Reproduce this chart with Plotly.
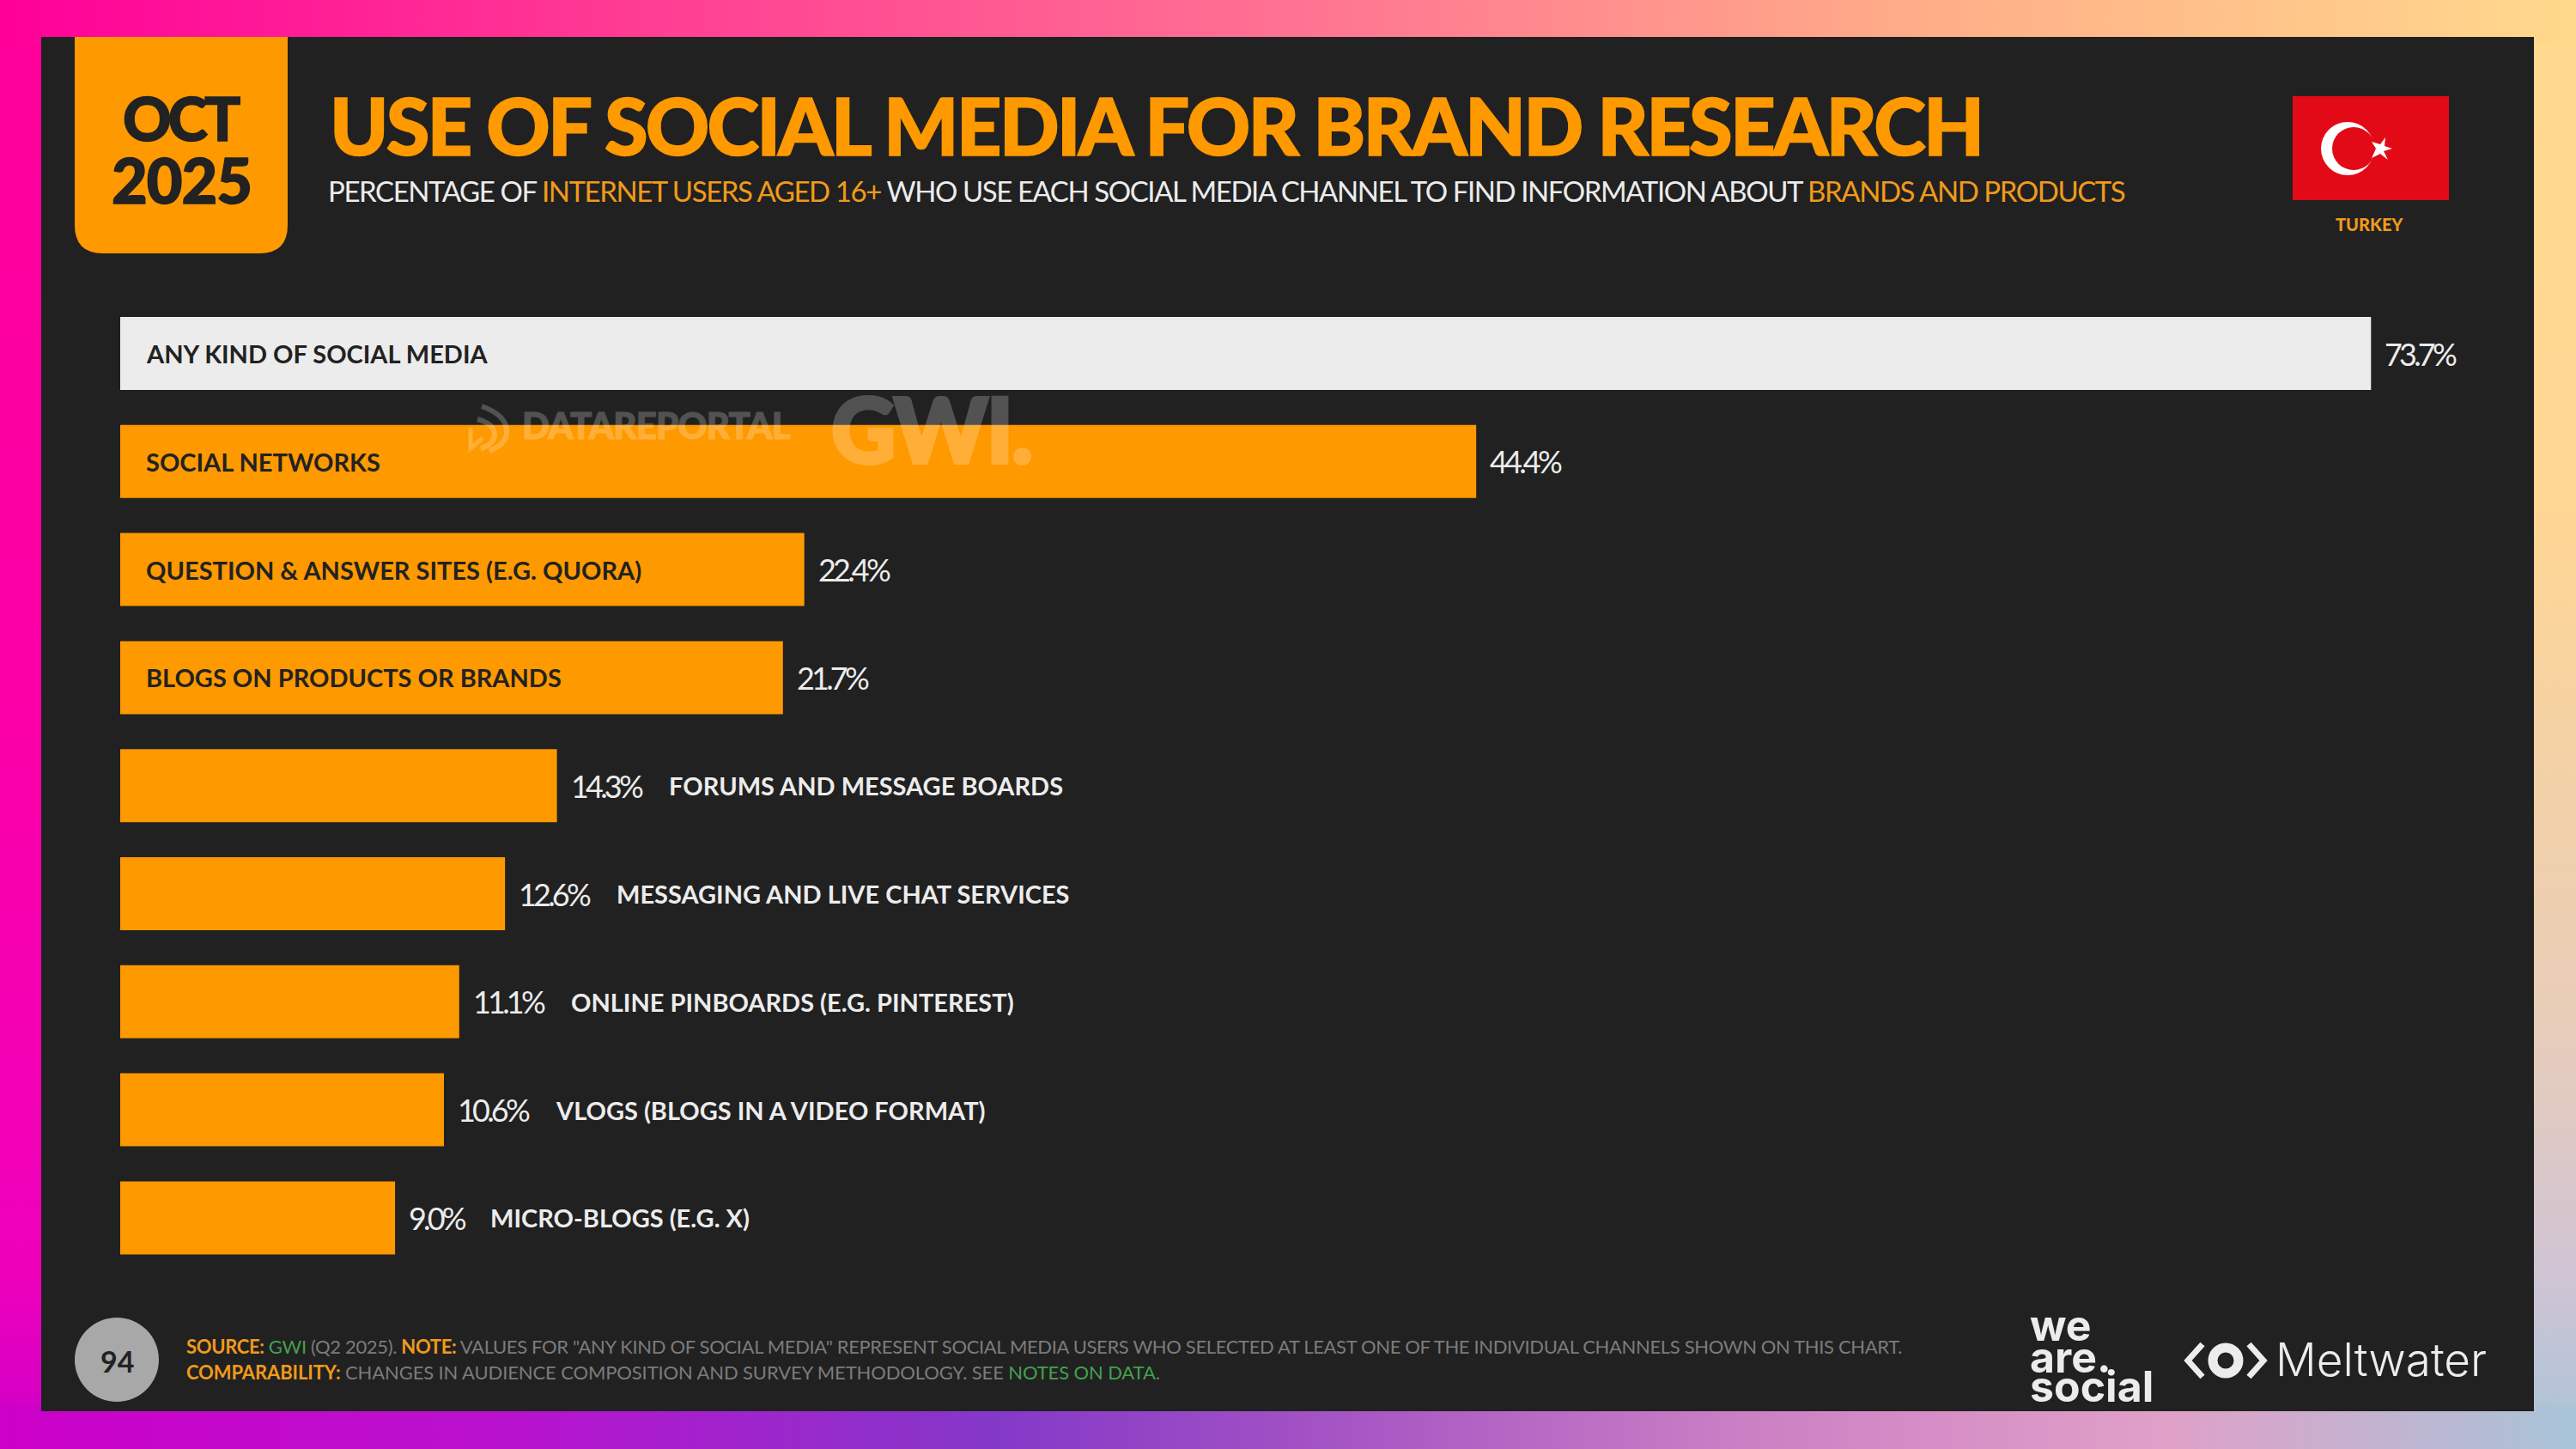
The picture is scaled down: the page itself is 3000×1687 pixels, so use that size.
#Use of social media for brand research, Turkey Oct 2025
import base64
import plotly.graph_objects as go

W = 3000
H = 1687

#The chart values
categories = ["ANY KIND OF SOCIAL MEDIA", "SOCIAL NETWORKS", "QUESTION & ANSWER SITES (E.G. QUORA)",
              "BLOGS ON PRODUCTS OR BRANDS", "FORUMS AND MESSAGE BOARDS", "MESSAGING AND LIVE CHAT SERVICES",
              "ONLINE PINBOARDS (E.G. PINTEREST)", "VLOGS (BLOGS IN A VIDEO FORMAT)", "MICRO-BLOGS (E.G. X)"]
values = [73.7, 44.4, 22.4, 21.7, 14.3, 12.6, 11.1, 10.6, 9.0]
inside_labels = 4  #the first four bars carry their name inside

ORANGE = "#ff9900"
LABEL_ORANGE = "#f09a1c"
PANEL = "#212121"
LIGHT = "#ececec"
GREY = "#7c7c7c"
GREEN = "#45a04f"
FONT = "Lato"


#Pixel position to paper position, the reference was measured in pixels
def px(x):
    return x / W


def py(y):
    return 1 - y / H


def path(cmds):
    #cmds is a list like [("M", 10, 20), ("Q", 1, 2, 3, 4)]
    out = ""
    for c in cmds:
        out += c[0]
        nums = c[1:]
        pairs = [f"{px(nums[i])},{py(nums[i + 1])}" for i in range(0, len(nums), 2)]
        out += " ".join(pairs) + " "
    return out.strip()


def label(x, y, text, size, color, anchor="left", font=FONT, opacity=1):
    return dict(xref="paper", yref="paper", x=px(x), y=py(y), text=text, showarrow=False,
                xanchor=anchor, yanchor="middle", align=anchor, opacity=opacity,
                font=dict(family=font, size=size, color=color))


#The original type is much tighter and heavier than anything installed, so the spans adjust it
def span(text, color=None, spacing=None, weight=None, thick=None):
    css = []
    if color:
        css.append(f"color:{color}")
    if spacing is not None:
        css.append(f"letter-spacing:{spacing}px")
    if weight:
        css.append(f"font-weight:{weight}")
    if thick:
        css.append(f"stroke:{thick[0]};stroke-width:{thick[1]}px")
    return f'<span style="{";".join(css)}">{text}</span>'


#The gradient frame around the dark panel
def stops(lst):
    return "".join(f'<stop offset="{o}" stop-color="{c}"/>' for o, c in lst)


top_edge = [(0, "#ff0099"), (0.25, "#ff3d93"), (0.5, "#ff7292"), (0.75, "#ffae88"), (1, "#ffd98c")]
bottom_edge = [(0, "#cc00c8"), (0.2, "#b812cf"), (0.385, "#8438c8"), (0.5, "#a050c4"),
               (0.68, "#cc80c4"), (0.84, "#e0a0c8"), (1, "#a8c4d8")]
left_edge = [(0, "#ff0099"), (0.5, "#fb00a8"), (0.88, "#ee00bb"), (1, "#cc00c8")]
right_edge = [(0, "#ffd98c"), (0.35, "#ffd694"), (0.7, "#e8cdb8"), (0.88, "#d0c4d4"), (1, "#a8c4d8")]

svg = f'''<svg xmlns="http://www.w3.org/2000/svg" width="{W}" height="{H}" viewBox="0 0 {W} {H}" preserveAspectRatio="none">
<defs>
<linearGradient id="t">{stops(top_edge)}</linearGradient>
<linearGradient id="b">{stops(bottom_edge)}</linearGradient>
<linearGradient id="l" x2="0" y2="1">{stops(left_edge)}</linearGradient>
<linearGradient id="r" x2="0" y2="1">{stops(right_edge)}</linearGradient>
</defs>
<rect x="0" y="0" width="60" height="{H}" fill="url(#l)"/>
<rect x="2940" y="0" width="60" height="{H}" fill="url(#r)"/>
<rect x="0" y="0" width="{W}" height="50" fill="url(#t)"/>
<rect x="0" y="1636" width="{W}" height="51" fill="url(#b)"/>
</svg>'''
frame_src = "data:image/svg+xml;base64," + base64.b64encode(svg.encode()).decode()

#The bars
bar_colors = [LIGHT] + [ORANGE] * (len(values) - 1)
fig = go.Figure()
fig.add_trace(go.Bar(x=values, y=categories, orientation="h", marker=dict(color=bar_colors, line_width=0),
                     hoverinfo="skip", showlegend=False))

anns = []
for i, (cat, v) in enumerate(zip(categories, values)):
    anns.append(dict(x=v, y=cat, xref="x", yref="y", xshift=14, text=span(f"{v:.1f}%", spacing=-3.8), showarrow=False,
                     xanchor="left", yanchor="middle", font=dict(family=FONT, size=36, color=LIGHT)))
    if i < inside_labels:
        anns.append(dict(x=0, y=cat, xref="x", yref="y", xshift=28, text=f"<b>{cat}</b>", showarrow=False,
                         xanchor="left", yanchor="middle", font=dict(family=FONT, size=29, color="#222222")))
    else:
        #the single digit value is shorter so its name sits closer
        shift = 128 if v >= 10 else 109
        anns.append(dict(x=v, y=cat, xref="x", yref="y", xshift=shift, text=f"<b>{cat}</b>", showarrow=False,
                         xanchor="left", yanchor="middle", font=dict(family=FONT, size=29, color=LIGHT)))

#Header
anns.append(label(211, 137, span("OCT", spacing=-4, weight=900, thick=("#222222", 1.5)), 70, "#222222", "center"))
anns.append(label(211, 209, span("2025", spacing=-1, weight=900, thick=("#222222", 1.5)), 72, "#222222", "center"))
anns.append(label(382, 145, span("USE OF SOCIAL MEDIA FOR BRAND RESEARCH", spacing=-2.9, weight=900, thick=(ORANGE, 1.5)),
                  92, ORANGE))
anns.append(label(380, 222, span("PERCENTAGE OF ", spacing=-1.43) + span("INTERNET USERS AGED 16+", LABEL_ORANGE, -1.43)
                  + span(" WHO USE EACH SOCIAL MEDIA CHANNEL TO FIND INFORMATION ABOUT ", spacing=-1.43)
                  + span("BRANDS AND PRODUCTS", LABEL_ORANGE, -1.43), 33, LIGHT))
anns.append(label(2759, 261, span("TURKEY", weight=900), 20, LABEL_ORANGE, "center"))

#Watermark, it sits over the bars
anns.append(label(606, 495, span("DATAREPORTAL", weight=900, spacing=-0.8, thick=("#ffffff", 1)), 42, "#ffffff", opacity=0.22))
anns.append(label(966, 498, span("GWI.", weight=900, spacing=-2, thick=("#ffffff", 4)), 104, "#ffffff", opacity=0.22))

#Footer
FS = -0.35
FS2 = -0.12
anns.append(label(215, 1567, span("<b>SOURCE:</b>", LABEL_ORANGE, FS) + span(" ", spacing=FS) + span("GWI", GREEN, FS)
                  + span(" (Q2 2025). ", spacing=FS) + span("<b>NOTE:</b>", LABEL_ORANGE, FS)
                  + span(' VALUES FOR "ANY KIND OF SOCIAL MEDIA" REPRESENT SOCIAL MEDIA USERS WHO SELECTED AT LEAST ONE'
                         + " OF THE INDIVIDUAL CHANNELS SHOWN ON THIS CHART.", spacing=FS), 22, GREY))
anns.append(label(215, 1597, span("<b>COMPARABILITY:</b>", LABEL_ORANGE, FS2)
                  + span(" CHANGES IN AUDIENCE COMPOSITION AND SURVEY METHODOLOGY. SEE ", spacing=FS2)
                  + span("NOTES ON DATA", GREEN, FS2) + span(".", spacing=FS2), 22, GREY))
anns.append(label(136, 1584, "<b>94</b>", 34, "#222222", "center"))

#Logos
anns.append(label(2362, 1543, "<b>we</b>", 50, LIGHT, font="Inter"))
anns.append(label(2362, 1580, "<b>are.</b>", 50, LIGHT, font="Inter"))
anns.append(label(2362, 1614, "<b>social</b>", 50, LIGHT, font="Inter"))
anns.append(label(2648, 1583, span("Meltwater", weight=300), 53, LIGHT, font="Inter"))

shapes = []


def rect(x0, y0, x1, y1, color):
    return dict(type="rect", xref="paper", yref="paper", x0=px(x0), x1=px(x1), y0=py(y0), y1=py(y1),
                fillcolor=color, line_width=0, layer="below")


def circle(cx, cy, r, color, layer="below", line=None, line_w=0):
    return dict(type="circle", xref="paper", yref="paper", x0=px(cx - r), x1=px(cx + r), y0=py(cy - r),
                y1=py(cy + r), fillcolor=color, line=dict(color=line, width=line_w), layer=layer)


def stroke(cmds, color, width, layer="below", opacity=1):
    return dict(type="path", xref="paper", yref="paper", path=path(cmds), line=dict(color=color, width=width),
                fillcolor="rgba(0,0,0,0)", layer=layer, opacity=opacity)


#Panel, date badge and page number
shapes.append(rect(48, 43, 2951, 1643, PANEL))
shapes.append(dict(type="path", xref="paper", yref="paper", layer="below", fillcolor=ORANGE, line_width=0,
                   path=path([("M", 87, 43), ("L", 335, 43), ("L", 335, 262), ("Q", 335, 295, 302, 295),
                              ("L", 120, 295), ("Q", 87, 295, 87, 262)]) + " Z"))
shapes.append(circle(136, 1583, 49, "#a8a8a8"))

#Flag
shapes.append(rect(2670, 112, 2852, 233, "#e30a17"))
shapes.append(circle(2734, 173, 31, "#ffffff"))
shapes.append(circle(2741, 173, 25, "#e30a17"))
star_r = [(2786, 173), (2776, 176), (2781, 186), (2772, 179), (2762, 184), (2767, 173),
          (2762, 165), (2772, 168), (2778, 160), (2777, 170)]
star = [("M",) + star_r[0]] + [("L",) + p for p in star_r[1:]]
shapes.append(dict(type="path", xref="paper", yref="paper", layer="below", fillcolor="#ffffff", line_width=0,
                   path=path(star) + " Z"))

#Watermark icon
shapes.append(stroke([("M", 561, 473), ("Q", 592, 484, 590, 505), ("Q", 588, 518, 570, 525)], "#ffffff", 6, "above", 0.22))
shapes.append(stroke([("M", 556, 488), ("Q", 577, 494, 576, 507), ("Q", 574, 518, 560, 522)], "#ffffff", 6, "above", 0.22))
shapes.append(stroke([("M", 548, 498), ("L", 548, 522), ("L", 562, 510)], "#ffffff", 5, "above", 0.22))

#Meltwater icon
shapes.append(stroke([("M", 2565, 1565), ("L", 2548, 1584), ("L", 2565, 1603)], LIGHT, 7))
shapes.append(stroke([("M", 2619, 1565), ("L", 2636, 1584), ("L", 2619, 1603)], LIGHT, 7))
shapes.append(circle(2592, 1584, 15, "rgba(0,0,0,0)", line=LIGHT, line_w=11))

fig.update_layout(
    width=W, height=H, margin=dict(l=0, r=0, t=0, b=0, pad=0),
    paper_bgcolor=PANEL, plot_bgcolor="rgba(0,0,0,0)",
    bargap=0.324, showlegend=False,
    xaxis=dict(domain=[140 / W, 2900 / W], range=[0, 77.6], visible=False),
    yaxis=dict(domain=[py(1480.8), py(348.6)], range=[8.5, -0.5], visible=False,
               type="category", categoryorder="array", categoryarray=categories),
    images=[dict(source=frame_src, xref="paper", yref="paper", x=0, y=1, sizex=1, sizey=1,
                 sizing="stretch", xanchor="left", yanchor="top", layer="below")],
    shapes=shapes, annotations=anns,
)

fig.write_html("out.html", post_script="document.body.style.margin='0';", config=dict(displayModeBar=False))
